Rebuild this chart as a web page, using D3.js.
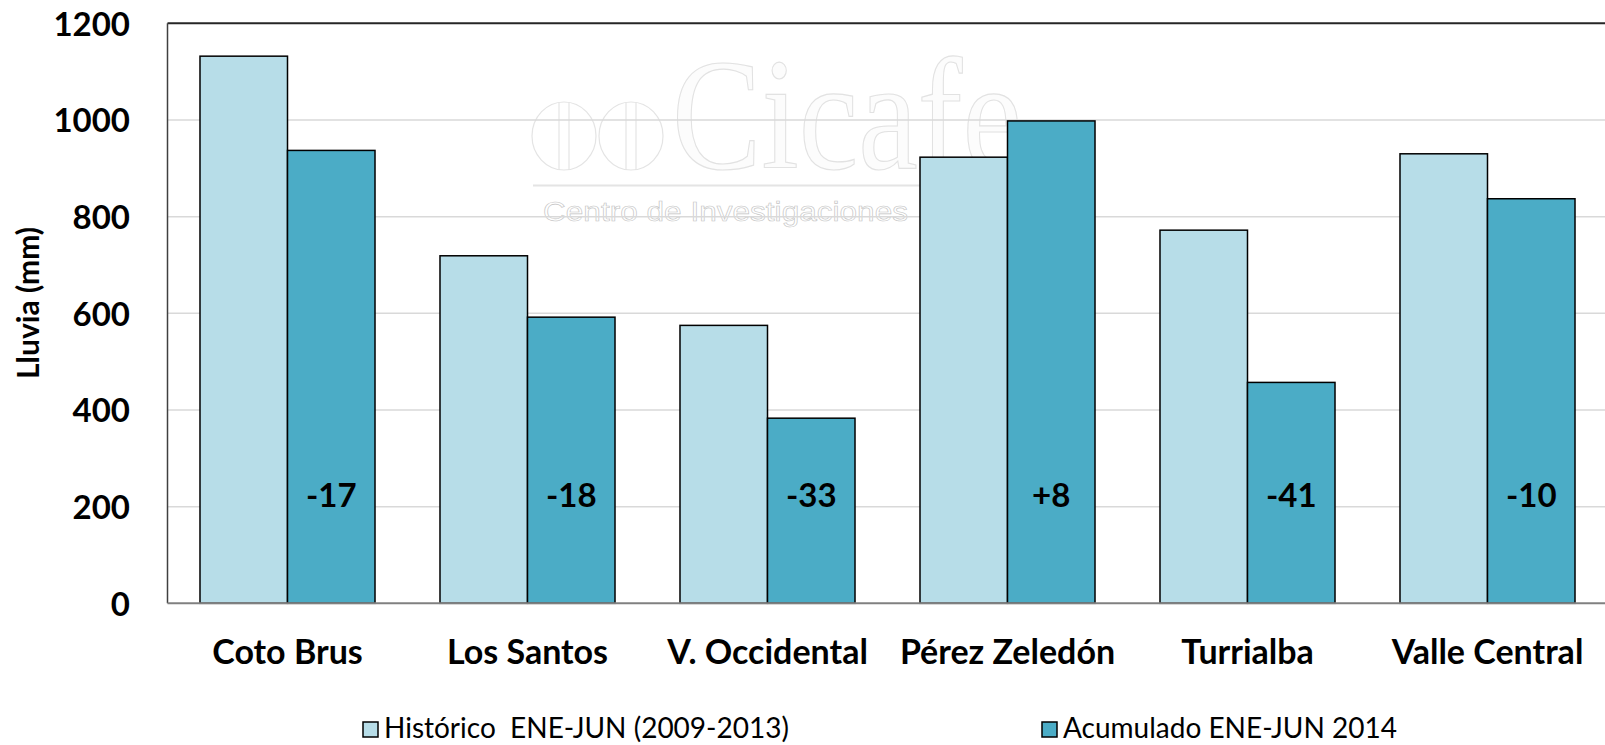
<!DOCTYPE html>
<html>
<head>
<meta charset="utf-8">
<script src="https://cdn.jsdelivr.net/npm/d3@7"></script>
<style>
  html, body { margin: 0; padding: 0; background: #fff; }
  svg { display: block; }
</style>
</head>
<body>
<script>
const categories = ["Coto Brus", "Los Santos", "V. Occidental", "Pérez Zeledón", "Turrialba", "Valle Central"];
const historico = [1132, 719, 575, 923, 772, 930];
const acumulado = [937, 592, 383, 998, 457, 837];
const diffLabels = ["-17", "-18", "-33", "+8", "-41", "-10"];
const yTicks = [0, 200, 400, 600, 800, 1000, 1200];
const seriesNames = ["Histórico  ENE-JUN (2009-2013)", "Acumulado ENE-JUN 2014"];
const seriesColors = ["#B7DDE8", "#4BACC6"];
const yTitle = "Lluvia (mm)";

(function () {
const W = 1605, H = 745;
const pLeft = 167.5, pRight = 1607.5, pTop = 23.3, pBottom = 603.3;

const svg = d3.select("body").append("svg").attr("width", W).attr("height", H);

const x0 = d3.scaleBand().domain(categories).range([pLeft, pRight]).paddingInner(0.2708).paddingOuter(0.1354);
const x1 = d3.scaleBand().domain([0, 1]).range([0, x0.bandwidth()]).padding(0);
const y = d3.scaleLinear().domain([0, 1200]).range([pBottom, pTop]);

// watermark (decorative logo)
const wm = svg.append("g").attr("class", "watermark");
[564, 631].forEach(cx => {
  wm.append("ellipse").attr("cx", cx).attr("cy", 136).attr("rx", 32).attr("ry", 34)
    .attr("fill", "none").attr("stroke", "#e4e4e4").attr("stroke-width", 1.2);
  [-5, 5].forEach(dx => wm.append("line").attr("x1", cx + dx).attr("x2", cx + dx)
    .attr("y1", 102).attr("y2", 170).attr("stroke", "#e4e4e4").attr("stroke-width", 1.2));
});
wm.append("text").attr("x", 672).attr("y", 168)
  .attr("font-family", "'Liberation Serif', 'DejaVu Serif', serif").attr("font-size", 158)
  .attr("textLength", 350).attr("lengthAdjust", "spacingAndGlyphs")
  .attr("fill", "#fcfcfc").attr("stroke", "#e2e2e2").attr("stroke-width", 1.2)
  .text("Cicafe");
wm.append("line").attr("x1", 533).attr("x2", 1015).attr("y1", 185.5).attr("y2", 185.5)
  .attr("stroke", "#e4e4e4").attr("stroke-width", 2);
wm.append("text").attr("x", 543).attr("y", 221)
  .attr("font-family", "'Liberation Sans', sans-serif").attr("font-size", 27)
  .attr("textLength", 365).attr("lengthAdjust", "spacingAndGlyphs")
  .attr("fill", "#ffffff").attr("stroke", "#c4c4c4").attr("stroke-width", 0.6)
  .text("Centro de Investigaciones");

// gridlines
svg.append("g").selectAll("line").data(yTicks.filter(d => d > 0 && d < 1200)).join("line")
  .attr("x1", pLeft).attr("x2", pRight)
  .attr("y1", d => y(d)).attr("y2", d => y(d))
  .attr("stroke", "#d9d9d9").attr("stroke-width", 1.5);

// plot border (top + left)
svg.append("line").attr("x1", pLeft).attr("x2", pRight).attr("y1", pTop).attr("y2", pTop)
  .attr("stroke", "#262626").attr("stroke-width", 2);
svg.append("line").attr("x1", pLeft).attr("x2", pLeft).attr("y1", pTop).attr("y2", pBottom)
  .attr("stroke", "#404040").attr("stroke-width", 1.5);

// bars
const groups = svg.append("g").selectAll("g").data(categories).join("g")
  .attr("transform", d => `translate(${x0(d)},0)`);
groups.selectAll("rect").data((d, i) => [historico[i], acumulado[i]]).join("rect")
  .attr("x", (d, j) => x1(j))
  .attr("width", x1.bandwidth())
  .attr("y", d => y(d))
  .attr("height", d => y(0) - y(d))
  .attr("fill", (d, j) => seriesColors[j])
  .attr("stroke", "#000").attr("stroke-width", 1.5);

// bottom axis line
svg.append("line").attr("x1", pLeft).attr("x2", pRight).attr("y1", pBottom).attr("y2", pBottom)
  .attr("stroke", "#808080").attr("stroke-width", 2);

// difference labels
svg.append("g").selectAll("text").data(categories).join("text")
  .attr("x", d => x0(d) + x1(1) + x1.bandwidth() / 2)
  .attr("y", y(200))
  .attr("text-anchor", "middle")
  .attr("font-family", "Lato, 'Open Sans', sans-serif").attr("font-weight", "bold")
  .attr("font-size", 33).attr("fill", "#000")
  .text((d, i) => diffLabels[i]);

// y axis tick labels
const yAxis = d3.axisLeft(y).tickValues(yTicks).tickFormat(d3.format("d")).tickSize(0).tickPadding(0);
const yg = svg.append("g").attr("transform", `translate(130,0)`).call(yAxis);
yg.select(".domain").remove();
yg.selectAll("text").attr("font-family", "Lato, 'Open Sans', sans-serif")
  .attr("font-weight", "bold").attr("font-size", 33).attr("fill", "#000").attr("dy", "0.36em");

// x axis labels
const xAxis = d3.axisBottom(x0).tickSize(0).tickPadding(0);
const xg = svg.append("g").attr("transform", `translate(0,664)`).call(xAxis);
xg.select(".domain").remove();
xg.selectAll("text").attr("font-family", "Lato, 'Open Sans', sans-serif")
  .attr("font-weight", "bold").attr("font-size", 34).attr("fill", "#000").attr("dy", 0);

// y title
svg.append("text")
  .attr("transform", `translate(39,303) rotate(-90)`)
  .attr("text-anchor", "middle")
  .attr("font-family", "Lato, 'Open Sans', sans-serif").attr("font-weight", "bold")
  .attr("font-size", 30).attr("fill", "#000")
  .text(yTitle);

// legend
const legX = [363, 1042];
const leg = svg.append("g").selectAll("g").data(seriesNames).join("g")
  .attr("transform", (d, i) => `translate(${legX[i]},722)`);
leg.append("rect").attr("width", 15).attr("height", 15)
  .attr("fill", (d, i) => seriesColors[i]).attr("stroke", "#000").attr("stroke-width", 1.5);
leg.append("text").attr("x", 21).attr("y", 16)
  .attr("font-family", "Lato, 'Open Sans', sans-serif").attr("font-size", 28).attr("fill", "#000")
  .style("white-space", "pre")
  .text(d => d);
})();
</script>
</body>
</html>
